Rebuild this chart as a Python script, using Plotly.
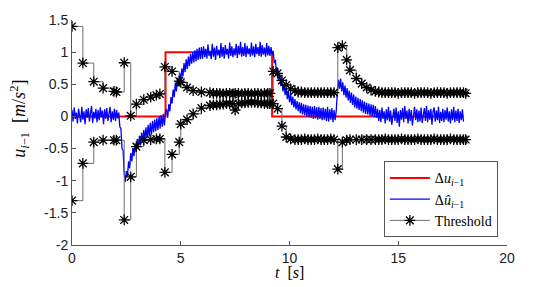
import numpy as np
import plotly.graph_objects as go

# ---------------- data ----------------
# Delta u_{i-1} (red step reference)
du_t = [0.0, 4.30, 9.20, 18.0]
du_v = [0.0, 1.0, 0.0, 0.0]

# Delta u-hat_{i-1} (blue, sampled every 0.05 s from 0 to 18 s), read segment by segment
blue_a = [0.10,-0.08,0.14,-0.04,0.06,-0.11,0.12,0.02,-0.09,0.15,
          -0.05,0.08,-0.12,0.11,-0.02,0.13,-0.08,0.05,0.16,-0.10,
          0.07,-0.03,0.12,-0.09,0.10,-0.06,0.14,-0.01,0.09,-0.12,
          0.11,-0.04,0.13,-0.07,0.06,0.15,-0.09,0.08,-0.05,0.12,
          -0.07,0.10,-0.03]
blue_b = [0.06,-0.16,-0.19,-0.50,-0.53,-0.88,-1.02,-0.85,-0.93,-0.70,
          -0.81,-0.57,-0.70,-0.49,-0.62,-0.42,-0.56,-0.35,-0.50,-0.30,
          -0.45,-0.25,-0.41,-0.21,-0.37,-0.17,-0.34,-0.13,-0.31,-0.10,
          -0.28,-0.07,-0.25,-0.05,-0.23,-0.03,-0.21,0.00,-0.19,0.02,
          -0.16,0.04,-0.14,0.07]
blue_c = [0.11,-0.02,0.19,0.08,0.30,0.20,0.42,0.30,0.52,0.39,
          0.60,0.47,0.68,0.55,0.75,0.62,0.83,0.69,0.89,0.74,
          0.93,0.78,0.97,0.82,1.00,0.84,1.03,0.86,1.05,0.88,
          1.07,0.89,1.08,0.90]
blue_d = [1.09,0.92,1.05,0.90,1.12,0.94,1.02,0.89,1.13,0.93,1.07,0.88,1.10,0.95,1.04,0.91,1.14,0.93,1.08,0.90,
          1.11,0.96,1.05,0.90,1.15,0.94,1.09,0.92,1.06,0.95,1.13,0.91,1.10,0.96,1.16,0.93,1.08,0.94,1.14,0.92,
          1.10,0.97,1.06,0.93,1.15,0.95,1.09,0.92,1.13,0.97,1.08,0.94,1.16,0.93,1.11,0.96,1.07,0.93,1.14,0.95,
          1.10,0.94,1.08,0.96]
blue_e = [1.02,0.83,0.88,0.68,0.76,0.57,0.66,0.47,0.58,0.39,
          0.51,0.33,0.45,0.27,0.39,0.22,0.35,0.18,0.31,0.14,
          0.27,0.11,0.24,0.08,0.22,0.05,0.21,0.03,0.19,0.02,
          0.18,0.00,0.17,-0.01,0.16,-0.02,0.15,-0.04,0.16,-0.03,
          0.14,-0.05,0.15,-0.04,0.13,-0.06,0.14,-0.05,0.12,-0.07,
          0.15,-0.08,0.11,-0.05,0.13,-0.09,0.10,-0.06,0.09]
blue_f = [0.39,0.57,0.43,0.59,0.39,0.53,0.33,0.48,0.29,0.44,
          0.25,0.40,0.21,0.37,0.18,0.34,0.14,0.31,0.12,0.29,
          0.10,0.27,0.08,0.25,0.06,0.23,0.04,0.21,0.03,0.20,
          0.01,0.19,0.00,0.18,-0.01,0.16,-0.02]
blue_g = [0.12,-0.07,0.10,-0.09,0.14,-0.04,0.08,-0.11,0.11,-0.06,0.15,-0.08,0.09,-0.13,0.06,0.12,-0.07,0.14,-0.10,0.08,
          -0.16,0.10,-0.05,0.13,-0.09,0.16,-0.04,0.09,-0.11,0.12,-0.07,0.10,-0.14,0.07,0.15,-0.06,0.11,-0.09,0.09,-0.08,
          0.14,-0.10,0.06,0.13,-0.07,0.16,-0.09,0.10,-0.05,0.12,-0.13,0.08,0.14,-0.08,0.09,-0.06,0.15,-0.10,0.07,-0.07,
          0.12,-0.09,0.10,-0.05,0.14,-0.08,0.08,-0.11,0.11,-0.06,0.15,-0.09,0.09,-0.07,0.12,-0.10,0.08,-0.06,0.11,-0.08]
blue_v = blue_a + blue_b + blue_c + blue_d + blue_e + blue_f + blue_g
blue_t = np.linspace(0.0, 18.0, len(blue_v))

# Threshold event times with upper / lower bounds
thr_t = [0.00, 0.50, 1.00, 1.43, 1.93, 2.04, 2.40, 2.70, 2.96, 3.30, 3.62, 3.88, 4.04, 4.27, 4.60, 4.93, 5.00, 5.29, 5.57, 5.95, 6.34,
         6.50, 6.65, 6.80, 6.95, 7.10, 7.25, 7.40, 7.50, 7.65, 7.80, 7.95, 8.10, 8.25, 8.40, 8.55, 8.70, 8.85, 9.00, 9.10,
         9.25, 9.45, 9.65, 9.85, 10.05, 10.25,
         10.40, 10.55, 10.70, 10.85, 11.00, 11.15, 11.30, 11.45, 11.60, 11.75, 11.90, 12.05,
         12.22, 12.43, 12.63, 12.78, 13.07, 13.32, 13.55, 13.75, 13.95,
         14.10, 14.25, 14.40, 14.55, 14.70, 14.85, 15.00, 15.15, 15.30, 15.45, 15.60, 15.75, 15.90, 16.05,
         16.20, 16.35, 16.50, 16.65, 16.80, 16.95, 17.10, 17.25, 17.40, 17.55, 17.70, 17.85, 18.00, 18.10]
thr_up = [1.40, 0.83, 0.54, 0.44, 0.39, 0.38, 0.835, 0.01, 0.19, 0.26, 0.30, 0.33, 0.35, 0.77, 0.70, 0.55, 0.53, 0.45, 0.40, 0.38, 0.37,
          0.36, 0.36, 0.36, 0.35, 0.36, 0.36, 0.35, 0.36, 0.36, 0.35, 0.36, 0.36, 0.35, 0.36, 0.36, 0.35, 0.36, 0.36, 0.36,
          0.70, 0.67, 0.56, 0.49, 0.43, 0.40,
          0.38, 0.38, 0.37, 0.37, 0.37, 0.37, 0.37, 0.37, 0.37, 0.37, 0.37, 0.37,
          1.07, 1.10, 0.88, 0.72, 0.59, 0.51, 0.45, 0.41, 0.39,
          0.38, 0.37, 0.37, 0.37, 0.37, 0.37, 0.36, 0.37, 0.37, 0.37, 0.37, 0.36, 0.37, 0.37,
          0.37, 0.37, 0.36, 0.37, 0.37, 0.37, 0.37, 0.36, 0.37, 0.37, 0.37, 0.37, 0.37, 0.36]
thr_lo = [-1.31, -0.73, -0.40, -0.37, -0.37, -0.37, -1.61, -0.94, -0.47, -0.37, -0.36, -0.35, -0.35, -0.87, -0.59, -0.40, -0.12, -0.05, 0.04, 0.13, 0.17,
          0.18, 0.18, 0.19, 0.19, 0.20, 0.20, 0.20, 0.10, 0.20, 0.21, 0.21, 0.22, 0.22, 0.22, 0.21, 0.21, 0.20, 0.20, 0.20,
          0.20, 0.12, -0.15, -0.32, -0.35, -0.36,
          -0.36, -0.36, -0.35, -0.36, -0.36, -0.36, -0.35, -0.36, -0.36, -0.36, -0.35, -0.36,
          -0.82, -0.40, -0.37, -0.36, -0.36, -0.36, -0.36, -0.36, -0.36,
          -0.36, -0.36, -0.35, -0.36, -0.36, -0.36, -0.36, -0.35, -0.36, -0.36, -0.36, -0.36, -0.35, -0.36,
          -0.36, -0.36, -0.36, -0.35, -0.36, -0.36, -0.36, -0.36, -0.35, -0.36, -0.36, -0.36, -0.36, -0.36]

x_ticks = [0, 5, 10, 15, 20]
y_ticks = [-2, -1.5, -1, -0.5, 0, 0.5, 1, 1.5]
y_tick_labels = ["-2", "-1.5", "-1", "-0.5", "0", "0.5", "1", "1.5"]

# ---------------- figure ----------------
SERIF = "Liberation Serif, DejaVu Serif, serif"
SANS = "Liberation Sans, Arial, Helvetica, sans-serif"

fig = go.Figure()
fig.add_trace(go.Scatter(x=du_t, y=du_v, mode="lines", line=dict(color="#ff0000", width=2, shape="hv"),
                         name="Δ<i>u</i><sub><i>i</i>−1</sub>"))
fig.add_trace(go.Scatter(x=blue_t, y=blue_v, mode="lines", line=dict(color="#0000ff", width=1.3),
                         name="Δ<i>û</i><sub><i>i</i>−1</sub>"))
mk = dict(symbol="asterisk-open", size=9, color="black", line=dict(color="black", width=1.3))
fig.add_trace(go.Scatter(x=thr_t, y=thr_up, mode="lines+markers", line=dict(color="rgb(110,110,110)", width=1, shape="hv"),
                         marker=mk, name="Threshold", legendgroup="thr"))
fig.add_trace(go.Scatter(x=thr_t, y=thr_lo, mode="lines+markers", line=dict(color="rgb(110,110,110)", width=1, shape="hv"),
                         marker=mk, name="Threshold", legendgroup="thr", showlegend=False))

axis_common = dict(showline=True, linecolor="#555555", linewidth=1, ticks="inside", ticklen=4,
                   tickcolor="#555555", showgrid=False, zeroline=False, mirror=False,
                   tickfont=dict(family=SANS, size=14, color="#222222"))
fig.update_xaxes(range=[0, 20], tickvals=x_ticks, **axis_common)
fig.update_yaxes(range=[-2, 1.5], tickvals=y_ticks, ticktext=y_tick_labels, **axis_common)

fig.update_layout(
    width=538, height=287,
    margin=dict(l=72, r=31, t=18, b=42),
    paper_bgcolor="white", plot_bgcolor="white",
    showlegend=True,
    legend=dict(x=0.979, y=0.034, xanchor="right", yanchor="bottom",
                bgcolor="white", bordercolor="#555555", borderwidth=1,
                font=dict(family=SERIF, size=14, color="black"),
                tracegroupgap=0, itemwidth=40),
    annotations=[
        dict(text="<i>t</i>  [<i>s</i>]", xref="paper", yref="paper", x=0.5, y=-0.12,
             xanchor="center", yanchor="middle", showarrow=False,
             font=dict(family=SERIF, size=16, color="black")),
        dict(text="<i>u</i><sub><i>i</i>−1</sub>  [<i>m</i>/<i>s</i><sup>2</sup>]", xref="paper", yref="paper",
             x=-0.12, y=0.56, xanchor="center", yanchor="middle", textangle=-90, showarrow=False,
             font=dict(family=SERIF, size=18, color="black")),
    ],
)

fig.write_html("out.html", config={"displayModeBar": False},
               post_script="document.body.style.margin='0';document.body.style.padding='0';")
